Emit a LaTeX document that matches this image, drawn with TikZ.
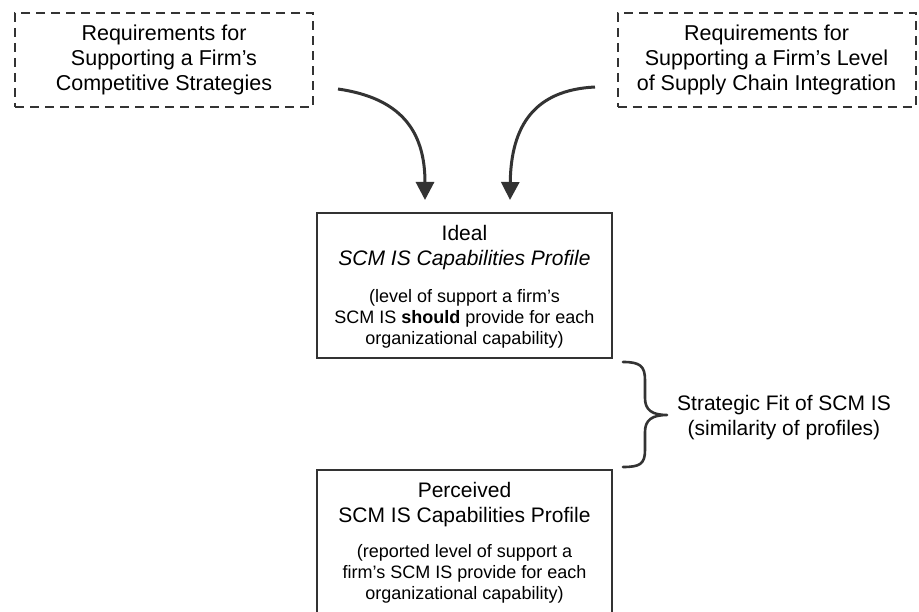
\documentclass[tikz,border=0pt]{standalone}
\usepackage{fontspec}
\setmainfont{Liberation Sans}
\usetikzlibrary{arrows.meta}
\definecolor{inkline}{HTML}{333333}
\tikzset{
  reqbox/.style={draw=inkline, line width=2pt, dash pattern=on 9pt off 6pt,
    minimum width=298pt, minimum height=94pt, align=center, inner sep=0pt,
    font=\fontsize{21.5}{25}\selectfont},
  profbox/.style={draw=inkline, line width=2pt, minimum width=295pt, inner sep=0pt},
  titletext/.style={align=center, inner sep=0pt, font=\fontsize{21}{25}\selectfont},
  notetext/.style={align=center, inner sep=0pt, font=\fontsize{18}{21}\selectfont},
  fittext/.style={align=center, inner sep=0pt, font=\fontsize{21}{25}\selectfont},
  feed/.style={draw=inkline, line width=3pt, -{Triangle[width=18pt,length=18pt]}},
  bracepath/.style={draw=inkline, line width=2.6pt, line cap=round, line join=round}
}
\begin{document}
\begin{tikzpicture}[x=1pt,y=-1pt]
\useasboundingbox (0,0) rectangle (919,612);
\clip (0,0) rectangle (919,612);

% requirement sources
\node[reqbox] (compreq) at (164,60)
  {Requirements for\\Supporting a Firm's\\Competitive Strategies};
\node[reqbox] (scireq) at (766.5,60)
  {Requirements for\\Supporting a Firm's Level\\of Supply Chain Integration};

% ideal profile
\node[profbox, minimum height=145pt] (ideal) at (464.5,285.5) {};
\node[titletext] (idealtitle) at (464.5,248) {Ideal\\\textit{SCM IS Capabilities Profile}};
\node[notetext] (idealnote) at (464.5,319)
  {(level of support a firm's\\SCM IS \textbf{should} provide for each\\organizational capability)};

% perceived profile (runs past the lower edge)
\node[profbox, minimum height=190pt] (perceived) at (464.5,565) {};
\node[titletext] (perctitle) at (464.5,504.5) {Perceived\\SCM IS Capabilities Profile};
\node[notetext] (percnote) at (464.5,573.5)
  {(reported level of support a\\firm's SCM IS provide for each\\organizational capability)};

% curved feeds into the ideal profile
\coordinate (tipA) at (425,200);
\coordinate (tipB) at (510,200);
\coordinate (startA) at (338,89);
\coordinate (startB) at (595,87);
\draw[feed] (startA) .. controls (400,98) and (425,130) .. (tipA);
\draw[feed] (startB) .. controls (535,90) and (511,125) .. (tipB);

% brace spanning the gap between the two profiles
\coordinate (braceT) at (623,362);
\coordinate (braceM) at (667,415);
\coordinate (braceB) at (623,467);
\draw[bracepath] (braceT) .. controls (640,362) and (645,366) .. (645,380)
  -- (645,398) .. controls (645,410) and (652,415) .. (braceM)
  .. controls (652,415) and (645,420) .. (645,432)
  -- (645,450) .. controls (645,464) and (640,467) .. (braceB);
\node[fittext] (fit) at (784,418) {Strategic Fit of SCM IS\\(similarity of profiles)};
\end{tikzpicture}
\end{document}
